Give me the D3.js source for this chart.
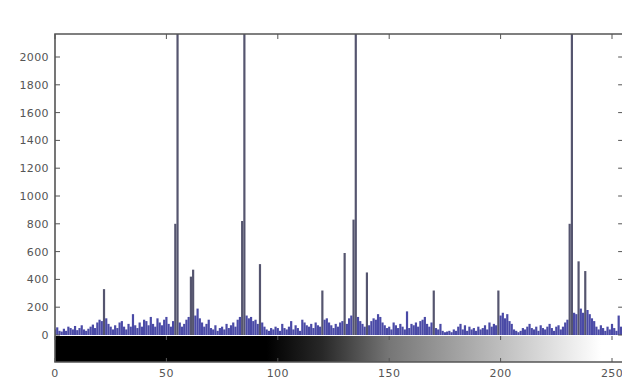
<!DOCTYPE html>
<html>
<head>
<meta charset="utf-8">
<script src="https://cdn.jsdelivr.net/npm/d3@7"></script>
<style>
  body { margin: 0; background: #fff; }
  text { font-family: "DejaVu Sans", sans-serif; }
</style>
</head>
<body>
<svg id="plot"></svg>
<script>
// histogram counts for grey levels 0..255 (spikes above the top are clipped)
const counts = [
  40, 55, 30, 25, 45, 30, 60, 50, 40, 65, 35, 50, 70, 40, 30, 45,
  60, 75, 50, 90, 110, 100, 330, 120, 80, 60, 40, 70, 50, 90, 100, 60,
  40, 80, 60, 150, 70, 50, 90, 60, 110, 100, 70, 130, 80, 60, 120, 90,
  70, 110, 130, 80, 60, 100, 800, 2500, 90, 60, 80, 110, 130, 420, 470, 140,
  190, 120, 90, 60, 80, 110, 50, 40, 70, 30, 50, 60, 40, 80, 50, 70,
  90, 60, 110, 130, 820, 2500, 140, 120, 130, 100, 110, 80, 510, 90, 60, 40,
  30, 50, 40, 60, 50, 30, 80, 50, 40, 60, 100, 40, 70, 50, 30, 110,
  90, 70, 60, 80, 50, 90, 70, 60, 320, 110, 120, 90, 70, 50, 80, 60,
  90, 100, 590, 80, 120, 140, 830, 2500, 130, 100, 80, 60, 450, 70, 100, 120,
  110, 150, 130, 90, 70, 50, 60, 40, 90, 70, 50, 80, 60, 40, 170, 50,
  80, 70, 90, 60, 100, 110, 130, 80, 60, 90, 320, 50, 40, 80, 30, 20,
  25, 30, 20, 40, 30, 60, 80, 40, 70, 30, 60, 40, 50, 30, 60, 40,
  50, 70, 40, 90, 60, 80, 70, 320, 140, 160, 120, 150, 100, 80, 40, 30,
  20, 30, 50, 40, 60, 80, 50, 40, 60, 30, 70, 50, 40, 60, 80, 50,
  30, 60, 70, 40, 60, 90, 110, 800, 2500, 160, 150, 530, 190, 160, 460, 180,
  150, 120, 100, 60, 40, 70, 50, 30, 60, 40, 80, 50, 30, 140, 60, 90
];
const xTicks = [0, 50, 100, 150, 200, 250];
const yTicks = [0, 200, 400, 600, 800, 1000, 1200, 1400, 1600, 1800, 2000];
// grey-level colour bar: [level, grey value]
const rampStops = [[0, 0], [95, 0], [120, 40], [150, 118], [200, 190], [245, 255], [255, 255]];

const W = 622, H = 381;
const svg = d3.select("#plot").attr("width", W).attr("height", H);

const padL = 55, padT = 34, histBottom = 335, barTop = 336, barBottom = 362;

const x = d3.scaleLinear().domain([0, 255]).range([padL, padL + 255 * 2.228]);
const y = d3.scaleLinear().domain([0, 2000]).range([histBottom, 57]);
const yMax = y.invert(padT);

const defs = svg.append("defs");
defs.append("clipPath").attr("id", "clip")
  .append("rect")
  .attr("x", padL).attr("y", padT)
  .attr("width", x(255) - padL).attr("height", histBottom - padT);

const grad = defs.append("linearGradient").attr("id", "ramp")
  .attr("gradientUnits", "userSpaceOnUse")
  .attr("x1", x(0)).attr("x2", x(255)).attr("y1", 0).attr("y2", 0);
grad.selectAll("stop").data(rampStops).join("stop")
  .attr("offset", d => d[0] / 255)
  .attr("stop-color", d => d3.rgb(d[1], d[1], d[1]));

// stems
svg.append("g").attr("clip-path", "url(#clip)")
  .selectAll("line").data(counts).join("line")
  .attr("x1", (d, i) => x(i)).attr("x2", (d, i) => x(i))
  .attr("y1", y(0)).attr("y2", d => y(Math.min(d, yMax + 50)))
  .attr("stroke", d => d > 300 ? "#55556f" : "#4a4aa6")
  .attr("stroke-width", 2.2);

// colour bar
svg.append("rect")
  .attr("x", x(0)).attr("y", barTop)
  .attr("width", x(255) - x(0)).attr("height", barBottom - barTop)
  .attr("fill", "url(#ramp)");

// box
svg.append("path")
  .attr("d", `M${x(255) + 2},${padT}H${padL}V${barBottom}H${x(255) + 2}`)
  .attr("fill", "none").attr("stroke", "#555").attr("stroke-width", 1.6);
svg.append("line")
  .attr("x1", x(255)).attr("x2", x(255)).attr("y1", padT).attr("y2", barBottom)
  .attr("stroke", "#555").attr("stroke-width", 1.6);

// y ticks (inward, both sides)
const yAxis = svg.append("g");
yTicks.forEach(t => {
  yAxis.append("line").attr("x1", padL).attr("x2", padL + 5)
    .attr("y1", y(t)).attr("y2", y(t)).attr("stroke", "#555");
  yAxis.append("line").attr("x1", x(255) - 5).attr("x2", x(255))
    .attr("y1", y(t)).attr("y2", y(t)).attr("stroke", "#555");
  yAxis.append("text").attr("x", padL - 6).attr("y", y(t) + 4)
    .attr("text-anchor", "end").attr("font-size", 11).attr("fill", "#555")
    .attr("letter-spacing", 0.4)
    .text(t);
});

// x ticks (inward, top of hist box and colour bar)
const xAxis = svg.append("g");
xTicks.forEach(t => {
  xAxis.append("line").attr("x1", x(t)).attr("x2", x(t))
    .attr("y1", padT).attr("y2", padT + 5).attr("stroke", "#555");
  xAxis.append("line").attr("x1", x(t)).attr("x2", x(t))
    .attr("y1", barBottom).attr("y2", barBottom - 4).attr("stroke", "#555");
  xAxis.append("line").attr("x1", x(t)).attr("x2", x(t))
    .attr("y1", barTop).attr("y2", barTop + 4).attr("stroke", "#555");
  xAxis.append("text").attr("x", x(t)).attr("y", 377)
    .attr("text-anchor", "middle").attr("font-size", 11).attr("fill", "#555")
    .attr("letter-spacing", 0.4)
    .text(t);
});
</script>
</body>
</html>
